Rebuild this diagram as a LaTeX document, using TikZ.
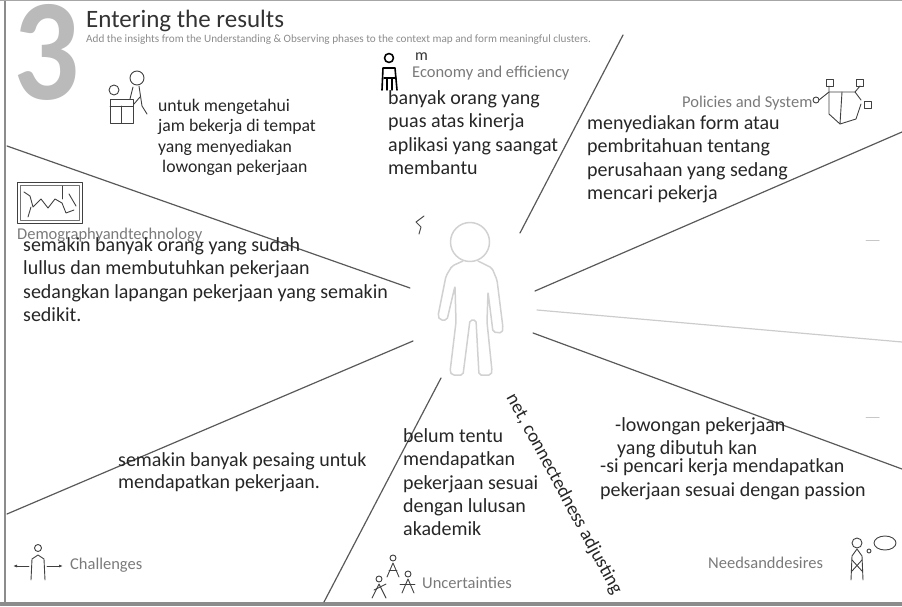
\documentclass[tikz,border=0pt]{standalone}
\usepackage{fontspec}
\setmainfont{Carlito}
\usetikzlibrary{arrows.meta}

\begin{document}
\begin{tikzpicture}[x=1pt, y=-1pt, line cap=round, line join=round]

			\useasboundingbox (0,0) rectangle (902,607);

			\tikzset{
				testo/.style={anchor=north west, align=left, inner sep=0pt, text=black!85,
					font=\fontsize{20}{23.3}\selectfont},
				etichetta/.style={anchor=west, inner sep=0pt, text=black!52,
					font=\fontsize{16.5}{18}\selectfont},
				divisore/.style={draw=black!65, line width=1.2pt},
				icona/.style={draw=black!75, line width=0.9pt}
			}

			% Cornice
			\draw[black!45, line width=1.5pt] (5,0) -- (5,602);
			\draw[black!35, line width=1pt] (0,0.5) -- (902,0.5);
			\draw[black!45, line width=4pt] (0,604) -- (902,604);

			% --- INTESTAZIONE ---
			\node[inner sep=0pt, text height=92pt, text depth=0pt, text=black!27,
				font=\bfseries\fontsize{145}{145}\selectfont, xscale=0.9] (numero) at (47,54) {3};
			\node[anchor=base west, inner sep=0pt, text=black!80, font=\fontsize{25}{28}\selectfont] (titolo) at (86,28) {Entering the results};
			\node[anchor=west, inner sep=0pt, text=black!45, font=\fontsize{11.2}{12}\selectfont] (sottotitolo) at (86,40)
				{Add the insights from the Understanding \& Observing phases to the context map and form meaningful clusters.};

			% --- SETTORI ---
			\draw[divisore] (623,35) -- (520,233);
			\draw[divisore] (902,132) -- (535,291);
			\draw[black!20, line width=1.2pt] (537,310) -- (902,342);
			\draw[divisore] (533,333) -- (902,469);
			\draw[divisore] (441,378) -- (324,602);
			\draw[divisore] (413,341) -- (7,514);
			\draw[divisore] (7,146) -- (410,288);

			% Persona al centro
			\draw[black!18, line width=1.5pt] (470,242) circle (19.5);
			\draw[black!18, line width=1.5pt, rounded corners=2pt]
				(463,261) -- (452,266) -- (446,276) -- (438,316) -- (440,320) -- (447,320) -- (455,286)
				-- (456,322) -- (450,372) -- (452,375) -- (463,375) -- (470,320) -- (476,320)
				-- (479,375) -- (491,375) -- (492,371) -- (487,322) -- (488,292) -- (493,332)
				-- (502,333) -- (503,328) -- (497,280) -- (492,268) -- (478,261);
			\draw[black!70, line width=1pt] (424,216) -- (416,222) -- (421,227) -- (419,234);
			\draw[black!22, line width=1pt] (866,240) -- (879,240);
			\draw[black!22, line width=1pt] (866,417) -- (879,417);

			% --- ICONE ---
			% interazioni
			\draw[icona] (137,78) circle (7);
			\draw[icona] (114,90) circle (5);
			\draw[icona] (110,99) rectangle (133,123);
			\draw[icona] (110,106) -- (133,106);
			\draw[icona] (121,106) -- (121,123);
			\draw[icona] (133,87) -- (130,99);
			\draw[icona] (139,86) -- (142,106) -- (147,114);
			\draw[icona] (140,97) -- (134,104);
			% economia
			\draw[black, line width=1.6pt] (389,58) circle (4.5);
			\draw[black, line width=1.6pt] (382,90) -- (383,68) -- (395,68) -- (397,90);
			\draw[black, line width=1.4pt] (384,78) -- (396,78);
			\draw[black, line width=1.4pt] (387,79) -- (387,90);
			\draw[black, line width=1.4pt] (392,79) -- (392,90);
			% politiche e sistemi
			\draw[icona] (826,79) rectangle (833,86);
			\draw[icona] (856,79) rectangle (863,86);
			\draw[icona] (864,101) rectangle (871,108);
			\draw[icona] (816,100) circle (3);
			\draw[icona] (819,100) -- (829,92) -- (855,92) -- (861,100);
			\draw[icona] (829,86) -- (829,114) -- (840,124) -- (856,119) -- (861,104);
			\draw[icona] (860,86) -- (855,92);
			\draw[icona] (842,92) -- (840,124);
			% demografia e tecnologia
			\draw[icona] (17,182) rectangle (82,223);
			\draw[black!55, line width=0.7pt] (20,185) rectangle (79,220);
			\draw[icona] (24,192) -- (30,196) -- (33,207) -- (41,199) -- (48,208) -- (55,199) -- (62,203) -- (66,213) -- (74,210);
			\draw[icona] (31,207) -- (28,217);
			\draw[icona] (62,186) -- (62,199);
			\draw[icona] (69,194) -- (76,206);
			% sfide
			\draw[icona] (38,548) circle (3.5);
			\draw[icona] (31,580) -- (32,559) -- (38,555) -- (44,559) -- (45,580);
			\draw[icona, -{Latex[length=4pt]}] (29,566) -- (13,566);
			\draw[icona, -{Latex[length=4pt]}] (47,566) -- (63,566);
			% incertezze
			\draw[icona] (393,558) circle (3);
			\draw[icona] (387,577) -- (393,563) -- (399,577);
			\draw[icona] (389,570) -- (397,570);
			\draw[icona] (379,579) circle (3);
			\draw[icona] (372,598) -- (379,584) -- (386,598);
			\draw[icona] (374,590) -- (386,584);
			\draw[icona] (408,574) circle (3);
			\draw[icona] (402,593) -- (408,579) -- (414,593);
			\draw[icona] (400,584) -- (415,584);
			% bisogni e desideri
			\draw[icona] (857,543) circle (5);
			\draw[icona] (851,580) -- (852,556) -- (857,549) -- (862,556) -- (863,580);
			\draw[icona] (852,560) -- (862,571);
			\draw[icona] (862,560) -- (852,571);
			\draw[icona] (885,543) ellipse (11 and 7);
			\draw[icona] (869,551) circle (2);

			% --- ETICHETTE DEI SETTORI ---
			\node[anchor=west, inner sep=0pt, text=black!80, font=\fontsize{16}{18}\selectfont] (lettera) at (415,57) {m};
			\node[etichetta] (economia) at (412,73) {Economy and efficiency};
			\node[etichetta] (politiche) at (682,103) {Policies and System};
			\node[etichetta] (demografia) at (17,235) {Demographyandtechnology};
			\node[etichetta] (sfide) at (70,565) {Challenges};
			\node[etichetta] (incertezze) at (422,583) {Uncertainties};
			\node[etichetta] (bisogni) at (708,563) {Needsanddesires};

			% --- TESTI NEI SETTORI ---
			\node[testo, font=\fontsize{17.7}{20.5}\selectfont] (orari) at (158,99)
				{untuk mengetahui\\ jam bekerja di tempat\\ yang menyediakan\\ \hspace*{4pt}lowongan pekerjaan};
			\node[testo] (kinerja) at (388,90.5)
				{banyak orang yang\\ puas atas kinerja\\ aplikasi yang saangat\\ membantu};
			\node[testo] (form) at (587,115.5)
				{menyediakan form atau\\ pembritahuan tentang\\ perusahaan yang sedang\\ mencari pekerja};
			\node[testo] (lulusan) at (23,237.5)
				{semakin banyak orang yang sudah\\ lullus dan membutuhkan pekerjaan\\ sedangkan lapangan pekerjaan yang semakin\\ sedikit.};
			\node[testo, font=\fontsize{20}{21.7}\selectfont] (pesaing) at (118,452.5)
				{semakin banyak pesaing untuk\\ mendapatkan pekerjaan.};
			\node[testo] (akademik) at (403,428.5)
				{belum tentu\\ mendapatkan\\ pekerjaan sesuai\\ dengan lulusan\\ akademik};
			\node[testo, font=\fontsize{20}{23}\selectfont] (lowongan) at (615,417.5)
				{-lowongan pekerjaan\\ \hspace*{2pt}yang dibutuh kan};
			\node[testo, font=\fontsize{20}{24}\selectfont] (passion) at (600,458.5)
				{-si pencari kerja mendapatkan\\ pekerjaan sesuai dengan passion};

			\node[inner sep=0pt, text=black!85, font=\fontsize{19}{21}\selectfont, rotate=-61.6] (jaringan) at (564,494)
				{net, connectedness adjusting};

		\end{tikzpicture}
\end{document}
